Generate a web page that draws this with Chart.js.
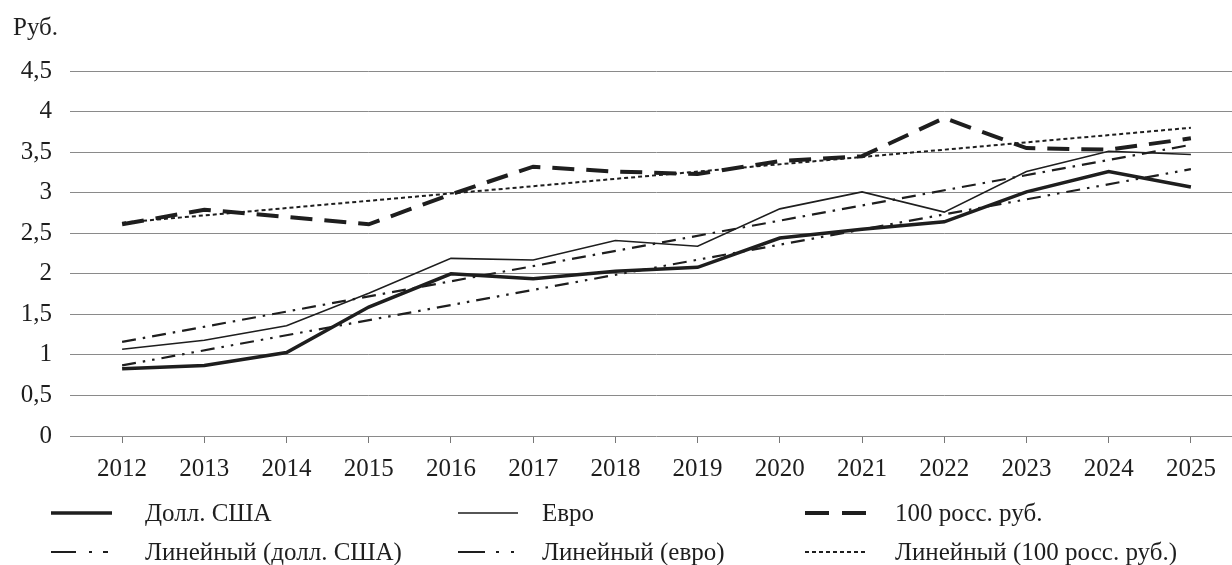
<!DOCTYPE html>
<html>
<head>
<meta charset="utf-8">
<script src="https://cdn.jsdelivr.net/npm/chart.js@4/dist/chart.umd.min.js"></script>
<style>
  body { margin: 0; background: #fff; }
  canvas { display: block; }
  .fontwarm { font-family: "Liberation Serif"; position: absolute; left: -999px; top: 0; font-size: 25px; }
</style>
</head>
<body>
<span class="fontwarm">Руб. 2012</span>
<canvas id="ratesChart" width="1232" height="565"></canvas>
<script>
// Years on the x axis
const years = ["2012", "2013", "2014", "2015", "2016", "2017", "2018", "2019", "2020", "2021", "2022", "2023", "2024", "2025"];

// Values, rubles
const usd = [0.83, 0.87, 1.03, 1.59, 2.0, 1.94, 2.03, 2.08, 2.44, 2.55, 2.64, 3.01, 3.26, 3.07];
const eur = [1.07, 1.18, 1.36, 1.76, 2.19, 2.17, 2.41, 2.34, 2.8, 3.01, 2.76, 3.26, 3.51, 3.47];
const rub100 = [2.61, 2.79, 2.7, 2.61, 2.98, 3.32, 3.26, 3.23, 3.39, 3.45, 3.92, 3.55, 3.53, 3.67];

// Trend lines: only the end values are read, the line spans the gap
const usdTrend = [0.87, null, null, null, null, null, null, null, null, null, null, null, null, 3.29];
const eurTrend = [1.16, null, null, null, null, null, null, null, null, null, null, null, null, 3.59];
const rubTrend = [2.63, null, null, null, null, null, null, null, null, null, null, null, null, 3.80];

const legendLabels = ["Долл. США", "Евро", "100 росс. руб.", "Линейный (долл. США)", "Линейный (евро)", "Линейный (100 росс. руб.)"];

const FONT = "\"Liberation Serif\", \"Times New Roman\", \"DejaVu Serif\", serif";
const INK = "#1e1e1e";

function line(label, data, width, dash, legendDash) {
    return {
        label: label,
        data: data,
        borderColor: INK,
        borderWidth: width,
        borderDash: dash,
        legendDash: legendDash,
        pointRadius: 0,
        tension: 0,
        spanGaps: true,
        fill: false
    };
}

// Legend in three columns, two rows, plus the "Руб." axis caption
const legendPlugin = {
    id: "bottomLegend",
    afterDraw(chart) {
        const ctx = chart.ctx;
        const cols = [
            { x0: 51, x1: 112, tx: 145 },
            { x0: 458, x1: 518, tx: 542 },
            { x0: 805, x1: 866, tx: 895 }
        ];
        const rows = [513, 552];
        ctx.save();
        ctx.font = "25px " + FONT;
        ctx.fillStyle = INK;
        ctx.textBaseline = "alphabetic";
        ctx.textAlign = "left";
        ctx.fillText("Руб.", 13, 35);
        ctx.textBaseline = "middle";
        chart.data.datasets.forEach((ds, i) => {
            const c = cols[i % 3];
            const y = rows[Math.floor(i / 3)];
            ctx.strokeStyle = ds.borderColor;
            ctx.lineWidth = ds.borderWidth;
            ctx.setLineDash(ds.legendDash || []);
            ctx.beginPath();
            ctx.moveTo(c.x0, y);
            ctx.lineTo(c.x1, y);
            ctx.stroke();
            ctx.setLineDash([]);
            ctx.fillText(legendLabels[i], c.tx, y + 1);
        });
        ctx.restore();
    }
};

function drawChart() {
    const ctx = document.getElementById("ratesChart").getContext("2d");
    new Chart(ctx, {
        type: "line",
        data: {
            labels: years,
            datasets: [
                line(legendLabels[0], usd, 3.5, [], []),
                line(legendLabels[1], eur, 1.6, [], []),
                line(legendLabels[2], rub100, 4, [22, 12], [24, 13]),
                line(legendLabels[3], usdTrend, 2.2, [14, 7, 2.5, 7, 2.5, 7], [25, 13, 3, 11, 5, 100]),
                line(legendLabels[4], eurTrend, 2.2, [14, 7, 2.5, 7], [27, 11, 3, 12, 3, 100]),
                line(legendLabels[5], rubTrend, 2, [4, 3], [4, 3])
            ]
        },
        options: {
            responsive: false,
            animation: false,
            layout: { padding: { top: 71, bottom: 89, left: 0, right: 0 } },
            plugins: {
                legend: { display: false },
                tooltip: { enabled: false }
            },
            scales: {
                x: {
                    offset: true,
                    grid: {
                        offset: false,
                        drawOnChartArea: false,
                        drawTicks: true,
                        tickLength: 7,
                        color: "#777"
                    },
                    border: { display: false },
                    ticks: {
                        color: INK,
                        padding: 11,
                        maxRotation: 0,
                        autoSkip: false,
                        font: { family: FONT, size: 25 }
                    },
                    afterFit: (scale) => { scale.height = 40; }
                },
                y: {
                    min: 0,
                    max: 4.5,
                    grid: {
                        color: "#8a8a8a",
                        lineWidth: 1,
                        drawTicks: true,
                        tickLength: 11
                    },
                    border: { display: false },
                    ticks: {
                        stepSize: 0.5,
                        color: INK,
                        padding: 18,
                        font: { family: FONT, size: 25 },
                        callback: (v) => String(v).replace(".", ",")
                    },
                    afterFit: (scale) => { scale.width = 81; }
                }
            }
        },
        plugins: [legendPlugin]
    });
}

if (document.fonts && document.fonts.load) {
    document.fonts.load("25px \"Liberation Serif\"").then(drawChart, drawChart);
} else {
    drawChart();
}
</script>
</body>
</html>
